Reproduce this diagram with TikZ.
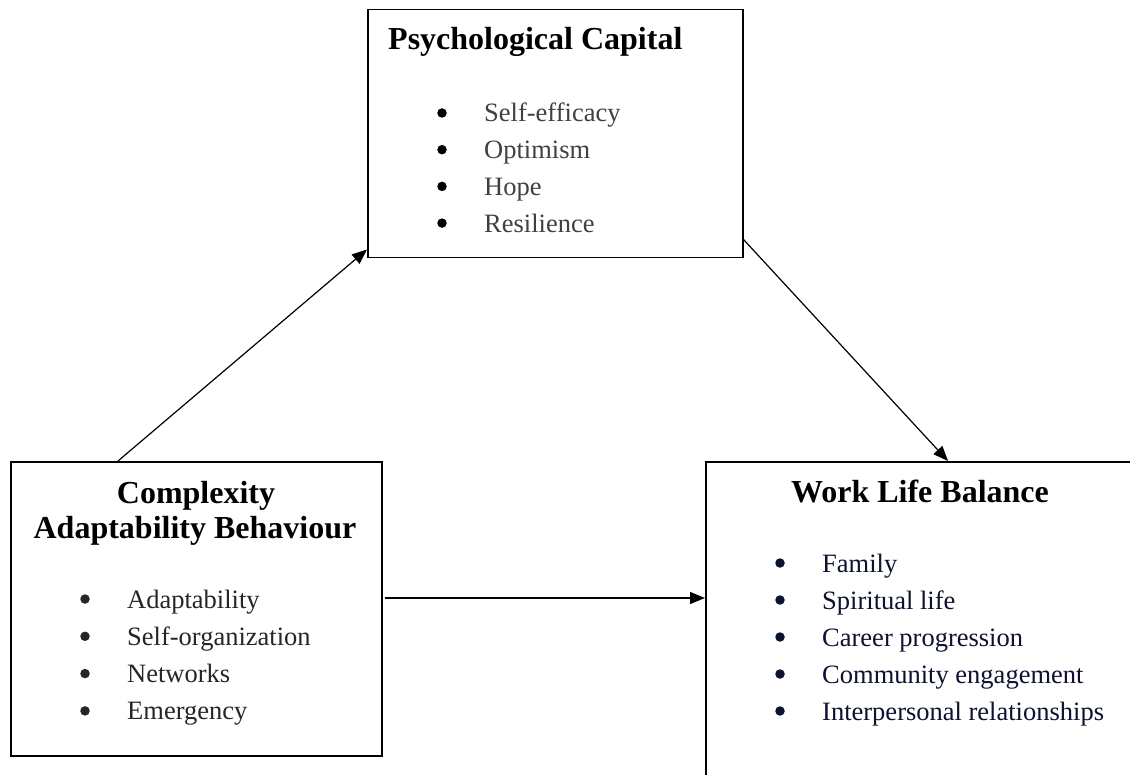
\documentclass[tikz,border=0pt]{standalone}
\usepackage{fontspec}
\setmainfont{Liberation Serif}
\usetikzlibrary{arrows.meta,calc}

\definecolor{itemgray}{HTML}{404040}
\definecolor{itemdark}{HTML}{262626}
\definecolor{itemnavy}{HTML}{0D1230}

\tikzset{
  panel/.style={draw=black, line width=1.5pt, rectangle, anchor=north west,
                inner sep=0pt, fill=white},
  heading/.style={font=\fontsize{32}{36}\selectfont\bfseries, inner sep=0pt, text=black},
  entry/.style={font=\fontsize{26.5}{30}\selectfont, inner sep=0pt, anchor=base west},
  dot/.style={circle, inner sep=0pt, minimum size=9.5pt, draw=none},
  link/.style={line width=1.2pt, -{Triangle[length=15pt,width=12pt]}},
}

\begin{document}
\begin{tikzpicture}[x=1pt, y=-1pt]
  \useasboundingbox (0,0) rectangle (1130,775);
  \clip (0,0) rectangle (1130,775);

  % the three construct boxes
  \node[panel, minimum width=375pt, minimum height=248pt] (pc)  at (367,9)   {};
  \node[panel, minimum width=371pt, minimum height=294pt] (cab) at (10,461)  {};
  \node[panel, minimum width=431pt, minimum height=340pt] (wlb) at (705,461) {};

  % Psychological Capital
  \node[heading, anchor=base west] (pcT) at (388,50) {Psychological Capital};
  \foreach \t [count=\i] in {Self-efficacy, Optimism, Hope, Resilience}{
    \node[dot, fill=black] (pcB\i) at (442,{122+36.7*(\i-1)-9}) {};
    \node[entry, text=itemgray] (pcI\i) at (484,{122+36.7*(\i-1)}) {\t};
  }

  % Complexity Adaptability Behaviour
  \node[heading, anchor=base] (cabT1) at (196,503) {Complexity};
  \node[heading, anchor=base] (cabT2) at (195,538) {Adaptability Behaviour};
  \foreach \t [count=\i] in {Adaptability, Self-organization, Networks, Emergency}{
    \node[dot, fill=itemdark] (cabB\i) at (85,{608+37.3*(\i-1)-9}) {};
    \node[entry, text=itemdark] (cabI\i) at (127,{608+37.3*(\i-1)}) {\t};
  }

  % Work Life Balance
  \node[heading, anchor=base] (wlbT) at (920,502) {Work Life Balance};
  \foreach \t [count=\i] in {Family, Spiritual life, Career progression,
                             Community engagement, Interpersonal relationships}{
    \node[dot, fill=itemnavy] (wlbB\i) at (780,{572+37*(\i-1)-9}) {};
    \node[entry, text=itemnavy] (wlbI\i) at (822,{572+37*(\i-1)}) {\t};
  }

  % paths between the constructs
  \draw[link] ($(cab.north west)+(108,0)$) -- ($(pc.south west)+(0,-9)$);
  \draw[link] ($(pc.south east)+(0,-19)$) -- ($(wlb.north west)+(243,0)$);
  \coordinate (hstart) at ($(cab.north east)+(2,137)$);
  \draw[link] (hstart) -- (wlb.west |- hstart);
\end{tikzpicture}
\end{document}
